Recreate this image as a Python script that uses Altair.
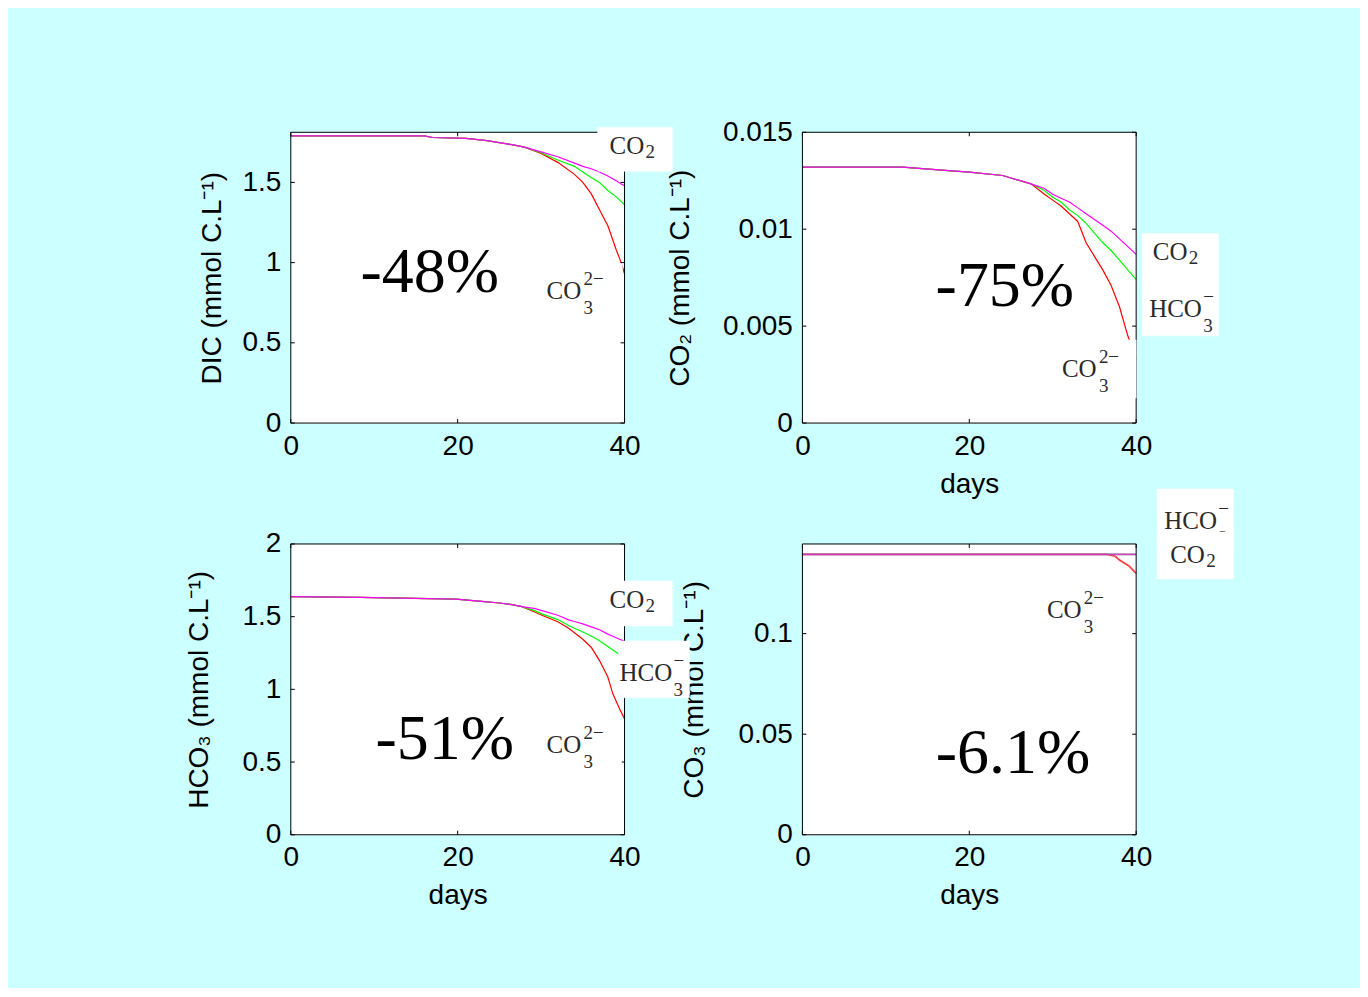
import altair as alt
import pandas as pd

# ---------------- data ----------------
SPECIES = ["CO3", "HCO3", "CO2"]          # drawing order: red, green, magenta
COLORS = ["#ff0000", "#00ff00", "#ff00ff"]

X_TICKS = [0, 20, 40]

# Panel 1: DIC
DAYS_DIC = [0, 16, 17, 21, 23.5, 26.5, 28, 30, 32, 34, 35, 36, 37, 38, 39, 39.6, 40]
DIC_CO2 = [1.79, 1.79, 1.78, 1.775, 1.76, 1.735, 1.72, 1.69, 1.66, 1.62, 1.60, 1.585, 1.565, 1.54, 1.51, 1.49, 1.48]
DIC_HCO3 = [1.79, 1.79, 1.78, 1.775, 1.76, 1.735, 1.72, 1.685, 1.64, 1.60, 1.565, 1.53, 1.50, 1.45, 1.41, 1.38, 1.36]
DIC_CO3 = [1.79, 1.79, 1.78, 1.775, 1.76, 1.735, 1.72, 1.68, 1.625, 1.55, 1.50, 1.43, 1.33, 1.23, 1.08, 1.00, 0.93]
YT_DIC = [0, 0.5, 1, 1.5]

# Panel 2: CO2
DAYS_CO2 = [0, 12, 17.5, 20, 24, 27.4, 29, 30, 31, 32, 33, 34, 35, 36, 37, 38, 39, 40]
CO2_CO2 = [0.0132, 0.0132, 0.01302, 0.01294, 0.01277, 0.01234, 0.0121, 0.0118, 0.0116, 0.0114, 0.0111, 0.0108,
           0.0105, 0.0102, 0.0099, 0.0095, 0.0091, 0.0087]
CO2_HCO3 = [0.0132, 0.0132, 0.01302, 0.01294, 0.01277, 0.01234, 0.0120, 0.01165, 0.0114, 0.0110, 0.0107, 0.0103,
            0.0098, 0.0093, 0.0089, 0.0084, 0.0079, 0.0074]
CO2_CO3 = [0.0132, 0.0132, 0.01302, 0.01294, 0.01277, 0.01234, 0.0118, 0.0115, 0.0112, 0.0108, 0.0104, 0.0093,
           0.0086, 0.0079, 0.0071, 0.0060, 0.0045, 0.0033]
YT_CO2 = [0, 0.005, 0.01, 0.015]

# Panel 3: HCO3
DAYS_HCO3 = [0, 8.3, 19.8, 23.2, 25, 26.5, 27.7, 29.3, 30.1, 32, 33.3, 34, 35, 36, 37, 38, 38.6, 39.4, 40]
HCO3_CO2 = [1.638, 1.632, 1.62, 1.604, 1.594, 1.583, 1.569, 1.555, 1.542, 1.51, 1.478, 1.467, 1.45, 1.43, 1.41,
            1.38, 1.365, 1.345, 1.33]
HCO3_HCO3 = [1.638, 1.632, 1.62, 1.604, 1.594, 1.583, 1.569, 1.54, 1.519, 1.48, 1.439, 1.42, 1.395, 1.367, 1.335,
             1.295, 1.271, 1.24, 1.22]
HCO3_CO3 = [1.638, 1.632, 1.62, 1.604, 1.594, 1.583, 1.569, 1.53, 1.51, 1.465, 1.42, 1.39, 1.345, 1.29, 1.198,
            1.085, 0.969, 0.866, 0.797]
YT_HCO3 = [0, 0.5, 1, 1.5, 2]

# Panel 4: CO3
DAYS_CO3 = [0, 36.5, 37.5, 38, 39.1, 40]
CO3_CO2 = [0.1394, 0.1394, 0.1394, 0.1394, 0.1394, 0.1394]
CO3_HCO3 = [0.1394, 0.1394, 0.1394, 0.1394, 0.1394, 0.1394]
CO3_CO3 = [0.1394, 0.1394, 0.1385, 0.1366, 0.1338, 0.1300]
YT_CO3 = [0, 0.05, 0.1]

PCT = ["-48%", "-75%", "-51%", "-6.1%"]

# ---------------- layout / style ----------------
W, H = 334, 291
COL_GAP = 178
AXIS_FONT = "Liberation Sans"
LABEL_FONT = "Liberation Serif"
MAIN_FS, SUB_FS = 25, 19
MAIN_W = {"CO": 37, "HCO": 54}


def shift_label(lb, dday, vfac):
    """Express a label in the coordinates of the neighbouring panel (so it is drawn above that panel)."""
    out = dict(lb)
    out["day"] = lb["day"] + dday
    out["val"] = lb["val"] * vfac
    if lb.get("box"):
        b = lb["box"]
        out["box"] = (b[0] + dday, b[1] + dday, b[2] * vfac, b[3] * vfac)
    out["vfac"] = vfac
    return out


def make_panel(days, vals, ymax, yticks, ytitle, xtitle, title_pad, pct_text, pct_pos, labels,
               line_opacity=1.0, line_width=1.2):
    sx = 40 / W
    sy = ymax / H
    ldf = pd.DataFrame([dict(day=d, val=v, sp=sp, k=i)
                        for i, sp in enumerate(SPECIES) for d, v in zip(days, vals[sp])])
    common = dict(labelFont=AXIS_FONT, labelFontSize=28, labelColor="black", ticks=False, domain=False,
                  grid=False, labelOverlap=False, labelFlush=False, titleFont=AXIS_FONT, titleFontSize=28,
                  titleFontWeight="normal", titleColor="black", labelExpr="'' + datum.value")
    if xtitle:
        xaxis = alt.Axis(values=X_TICKS, labelPadding=9, title=xtitle, titlePadding=10, **common)
    else:
        xaxis = alt.Axis(values=X_TICKS, labelPadding=9, title=None, **common)
    yaxis = alt.Axis(values=yticks, labelPadding=10, title=ytitle, titlePadding=title_pad, **common)
    X = alt.X("day:Q", scale=alt.Scale(domain=[0, 40], nice=False), axis=xaxis)
    Y = alt.Y("val:Q", scale=alt.Scale(domain=[0, ymax], nice=False), axis=yaxis)

    lines = alt.Chart(ldf).mark_line(strokeWidth=line_width, opacity=line_opacity).encode(
        x=X, y=Y,
        color=alt.Color("sp:N", scale=alt.Scale(domain=SPECIES, range=COLORS), legend=None),
        detail="k:N",
    )

    tl = 4
    trows = []
    for t in yticks:
        trows += [dict(day=0, day2=tl * sx, val=t, val2=t), dict(day=40 - tl * sx, day2=40, val=t, val2=t)]
    for t in X_TICKS:
        trows += [dict(day=t, day2=t, val=0, val2=tl * sy), dict(day=t, day2=t, val=ymax - tl * sy, val2=ymax)]
    ticks = alt.Chart(pd.DataFrame(trows)).mark_rule(color="black", strokeWidth=1).encode(
        x=X, x2="day2:Q", y=Y, y2="val2:Q")

    frame = alt.Chart(pd.DataFrame([dict(day=0, day2=40, val=0, val2=ymax)])).mark_rect(
        fillOpacity=0, stroke="black", strokeWidth=1).encode(x=X, x2="day2:Q", y=Y, y2="val2:Q")

    layers = [lines, ticks, frame]
    for z in (0, 1):
        boxes = [dict(day=lb["box"][0], day2=lb["box"][1], val=lb["box"][2], val2=lb["box"][3])
                 for lb in labels if lb.get("box") and lb.get("z", 0) == z]
        parts = []
        for lb in labels:
            if lb.get("z", 0) != z:
                continue
            d, v, m = lb["day"], lb["val"], lb["main"]
            py = sy * lb.get("vfac", 1.0) / lb.get("vfac", 1.0)
            parts.append(dict(day=d, val=v, txt=m, fs=MAIN_FS))
            dxm = MAIN_W[m] * sx
            if lb.get("sup"):
                parts.append(dict(day=d + dxm, val=v + 14 * py, txt=lb["sup"], fs=SUB_FS))
                parts.append(dict(day=d + dxm, val=v - 15 * py, txt=lb["sub"], fs=SUB_FS))
            else:
                parts.append(dict(day=d + dxm - 1 * sx, val=v - 4 * py, txt=lb["sub"], fs=SUB_FS))
        if boxes:
            layers.append(alt.Chart(pd.DataFrame(boxes)).mark_rect(fill="white", stroke="white", strokeWidth=0.5)
                          .encode(x=X, x2="day2:Q", y=Y, y2="val2:Q"))
        if parts:
            layers.append(alt.Chart(pd.DataFrame(parts)).mark_text(
                font=LABEL_FONT, color="#2a2a2a", align="left", baseline="alphabetic").encode(
                x=X, y=Y, text="txt:N", size=alt.Size("fs:Q", scale=None, legend=None)))

    pct = alt.Chart(pd.DataFrame([dict(day=pct_pos[0], val=pct_pos[1], txt=pct_text)])).mark_text(
        font=LABEL_FONT, fontSize=64, color="black", align="center", baseline="alphabetic").encode(
        x=X, y=Y, text="txt:N")
    layers.append(pct)
    return alt.layer(*layers).properties(width=W, height=H)


p1 = make_panel(DAYS_DIC, {"CO2": DIC_CO2, "HCO3": DIC_HCO3, "CO3": DIC_CO3}, 1.8125, YT_DIC,
                "DIC (mmol C.L⁻¹)", None, 15, PCT[0], (16.65, 0.819),
                [dict(main="CO", sub="2", day=38.2, val=1.675, box=(36.77, 45.75, 1.569, 1.844)),
                 dict(main="CO", sub="3", sup="2−", day=30.66, val=0.775, box=(29.8, 39.75, 0.644, 0.994))])

p2 = make_panel(DAYS_CO2, {"CO2": CO2_CO2, "HCO3": CO2_HCO3, "CO3": CO2_CO3}, 0.015, YT_CO2,
                "CO₂ (mmol C.L⁻¹)", "days", 28, PCT[1], (24.26, 0.00605),
                [dict(main="CO", sub="2", day=42.0, val=0.00839, box=(40.72, 49.85, 0.00678, 0.00978)),
                 dict(main="HCO", sub="3", sup="−", day=41.56, val=0.00547, box=(40.72, 49.85, 0.0045, 0.00678)),
                 dict(main="CO", sub="3", sup="2−", day=31.1, val=0.00238, box=(30.39, 40.0, 0.00129, 0.00429))])

p3 = make_panel(DAYS_HCO3, {"CO2": HCO3_CO2, "HCO3": HCO3_HCO3, "CO3": HCO3_CO3}, 2.0, YT_HCO3,
                "HCO₃ (mmol C.L⁻¹)", "days", 28, PCT[2], (18.44, 0.522),
                [dict(main="CO", sub="2", day=38.2, val=1.560, box=(36.77, 45.75, 1.436, 1.746)),
                 dict(main="CO", sub="3", sup="2−", day=30.66, val=0.564, box=(29.82, 39.64, 0.426, 0.763))])

# the HCO3- label of panel 3 overlaps the y title of panel 4, so it is drawn with panel 4 (in its coordinates)
p3_hco3_label = dict(main="HCO", sub="3", sup="−", day=39.4, val=1.058, box=(39.28, 47.78, 0.942, 1.333))
carry = shift_label(p3_hco3_label, -(W + COL_GAP) * 40 / W, 0.1446 / 2.0)

p4 = make_panel(DAYS_CO3, {"CO2": CO3_CO2, "HCO3": CO3_HCO3, "CO3": CO3_CO3}, 0.1446, YT_CO3,
                "CO₃ (mmol C.L⁻¹)", "days", 29, PCT[3], (25.23, 0.0308),
                [carry,
                 dict(main="HCO", sub="3", sup="−", day=43.36, val=0.1521, box=(42.52, 51.65, 0.1436, 0.1719), z=0),
                 dict(main="CO", sub="2", day=44.08, val=0.1351, box=(42.52, 51.65, 0.1272, 0.1506), z=1),
                 dict(main="CO", sub="3", sup="2−", day=29.3, val=0.1078)],
                line_opacity=0.75, line_width=1.8)

chart = alt.concat(
    p1, p2, p3, p4, columns=2, spacing={"row": 121, "column": COL_GAP}, bounds="flush",
).properties(
    background="#ccffff",
    padding={"left": 177, "top": 109, "right": 125, "bottom": 77},
).configure_view(stroke="transparent", fill="white")

chart.save("out.html", embed_options={"renderer": "svg", "actions": False})
